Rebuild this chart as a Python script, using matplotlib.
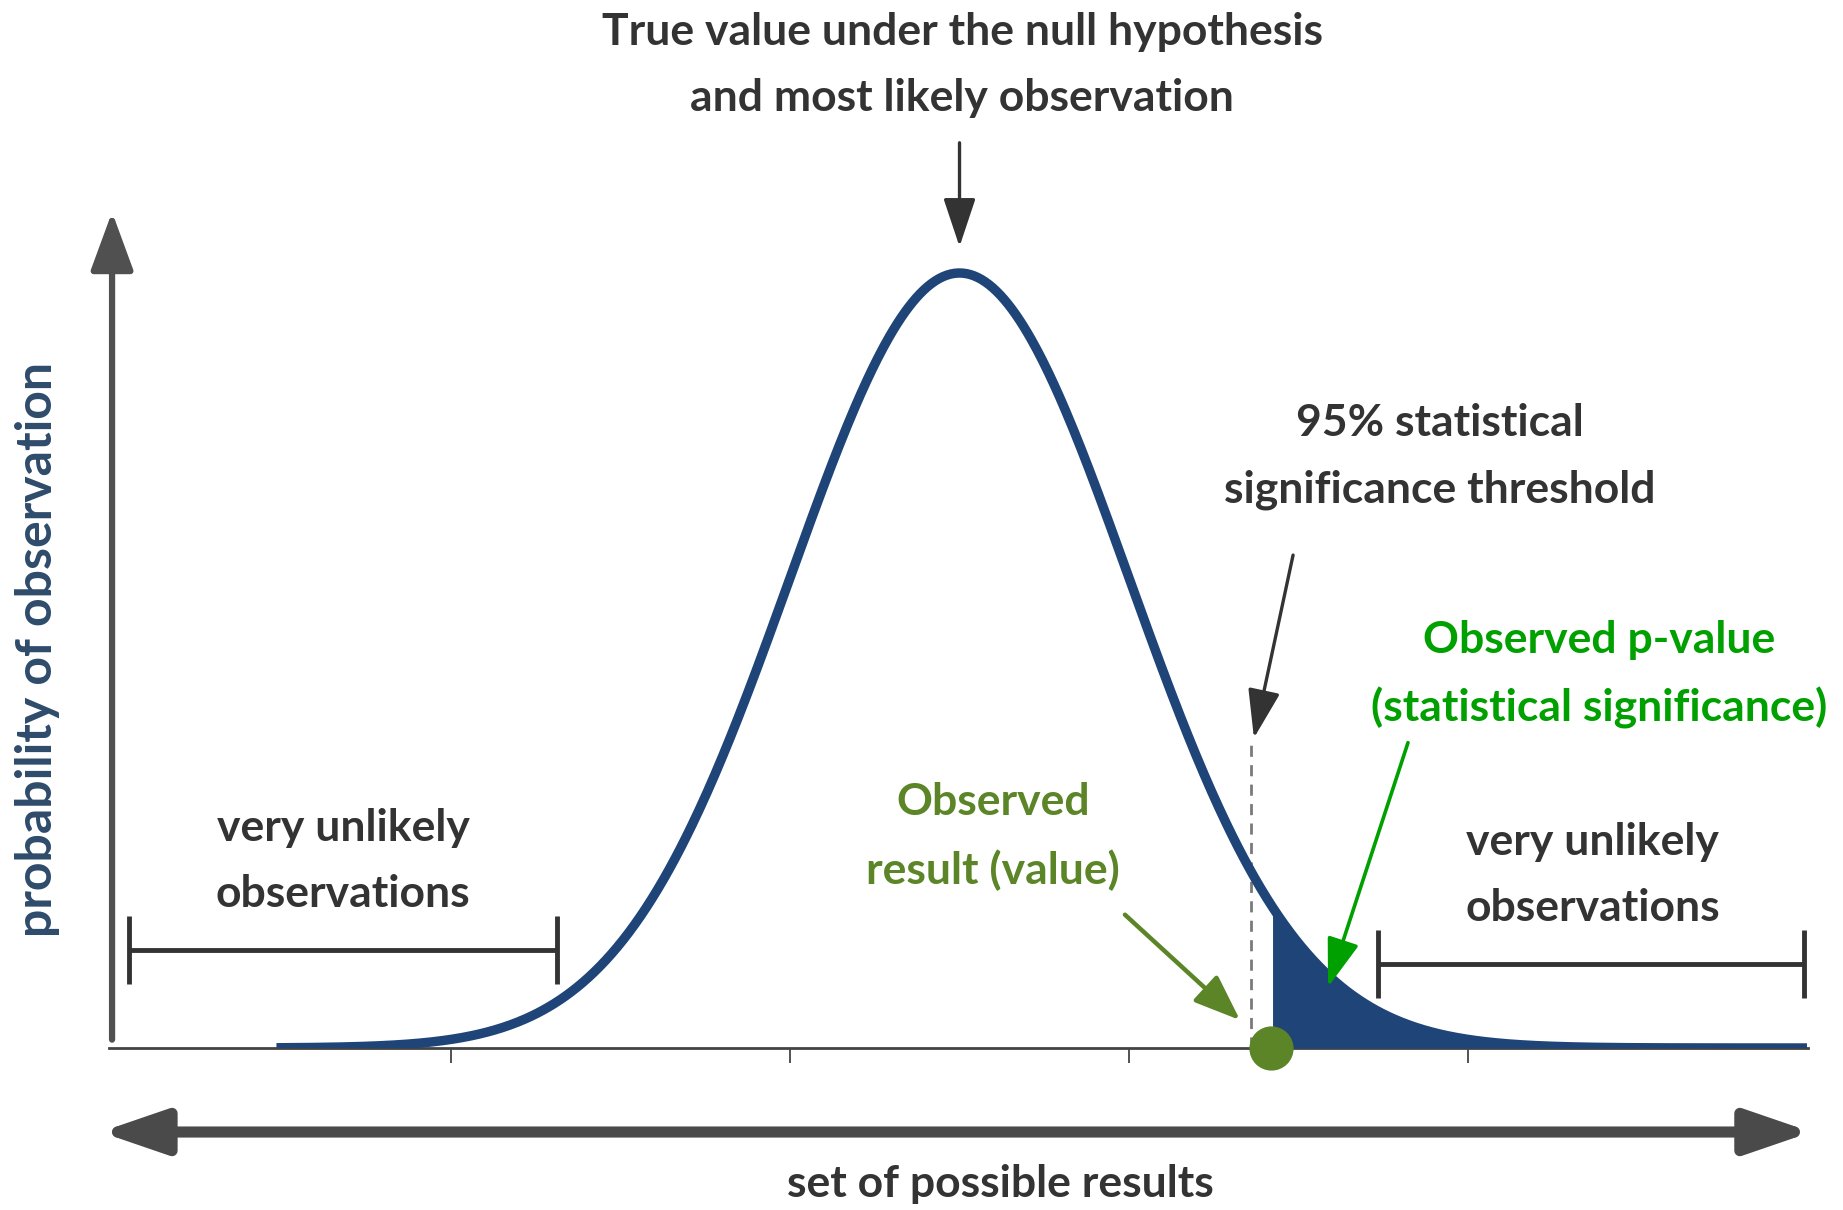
import numpy as np
import matplotlib.pyplot as plt

# curve parameters (in units of standard deviation)
mean = 0.0
sd = 1.0
x_start, x_end = -4.03, 5.0
threshold = 1.72        # 95% significance threshold
observed = 1.84         # observed result
tick_pos = [-3, -1, 1, 3]

# ranges of "very unlikely observations" brackets
left_range = [-4.90, -2.375]
left_range_y = 0.1265
right_range = [2.469, 4.98]
right_range_y = 0.108

navy = '#1f4478'
dark = '#333333'
green = '#00a000'
olive = '#5b8526'

plt.rcParams['font.family'] = ['Lato', 'DejaVu Sans']
plt.rcParams['font.weight'] = 'bold'

fig = plt.figure(figsize=(18.43, 12.10), dpi=100)
ax = fig.add_axes([109 / 1843, 1 - 1048 / 1210, 1699 / 1843, 836 / 1210])

x = np.linspace(x_start, x_end, 800)
y = np.exp(-0.5 * ((x - mean) / sd) ** 2)

ax.plot(x, y, color=navy, lw=6.8, solid_capstyle='butt', zorder=3)
xs = x[x >= observed]
ax.fill_between(xs, 0, np.exp(-0.5 * ((xs - mean) / sd) ** 2), color=navy, lw=0, zorder=3)

ax.set_xlim(-5.018, 5.006)
ax.set_ylim(0, 1.0787)
for s in ['top', 'right', 'left']:
    ax.spines[s].set_visible(False)
ax.spines['bottom'].set_color('#444444')
ax.spines['bottom'].set_linewidth(2)
ax.set_xticks(tick_pos)
ax.set_xticklabels([])
ax.set_yticks([])
ax.tick_params(axis='x', direction='out', length=11, width=1.3, color='#444444')

# threshold dashed line
ax.plot([threshold, threshold], [0, 0.40], color='#7a7a7a', lw=2, ls=(0, (4, 3)), zorder=2)

# observed point
ax.scatter([observed], [0], s=950, color=olive, zorder=5, clip_on=False)

# brackets
for rng, yy, cap in [(left_range, left_range_y, 0.044), (right_range, right_range_y, 0.044)]:
    ax.plot(rng, [yy, yy], color=dark, lw=3.5, solid_capstyle='butt')
    for xx in rng:
        ax.plot([xx, xx], [yy - cap, yy + cap], color=dark, lw=3.5, solid_capstyle='butt')

fs = 32
ls = 1.8
head = '-|>,head_length=1.5,head_width=0.5'
ax.text(-3.637, 0.241, 'very unlikely\nobservations', ha='center', va='center',
        fontsize=fs, color=dark, linespacing=ls)
ax.text(3.737, 0.223, 'very unlikely\nobservations', ha='center', va='center',
        fontsize=fs, color=dark, linespacing=ls)

# top annotation
ax.text(0.015, 1.268, 'True value under the null hypothesis\nand most likely observation',
        ha='center', va='center', fontsize=fs, color=dark, linespacing=ls)
ax.annotate('', xy=(0, 1.034), xytext=(0, 1.168), annotation_clip=False,
            arrowprops=dict(arrowstyle=head, mutation_scale=20,
                            color=dark, lw=2.4, shrinkA=0, shrinkB=0))

# threshold annotation
ax.text(2.835, 0.763, '95% statistical\nsignificance threshold', ha='center', va='center',
        fontsize=fs, color=dark, linespacing=ls)
ax.annotate('', xy=(1.737, 0.400), xytext=(1.968, 0.636),
            arrowprops=dict(arrowstyle=head, mutation_scale=20,
                            color=dark, lw=2.4, shrinkA=0, shrinkB=0))

# p-value annotation
ax.text(3.773, 0.482, 'Observed p-value\n(statistical significance)', ha='center', va='center',
        fontsize=fs, color=green, linespacing=ls)
ax.annotate('', xy=(2.174, 0.0787), xytext=(2.646, 0.394),
            arrowprops=dict(arrowstyle=head, mutation_scale=20,
                            color=green, lw=2.6, shrinkA=0, shrinkB=0), zorder=6)

# observed result annotation
ax.text(0.198, 0.273, 'Observed\nresult (value)', ha='center', va='center',
        fontsize=fs, color=olive, linespacing=ls)
ax.annotate('', xy=(1.655, 0.036), xytext=(0.976, 0.172),
            arrowprops=dict(arrowstyle='-|>,head_length=1.3,head_width=0.5', mutation_scale=22,
                            color=olive, lw=3.2, shrinkA=0, shrinkB=0))

# y axis arrow
ax.annotate('', xy=(0.0018, 1.0), xytext=(0.0018, 0.01), xycoords='axes fraction',
            annotation_clip=False,
            arrowprops=dict(arrowstyle='-|>,head_length=1.5,head_width=0.55', mutation_scale=24,
                            color='#505050', lw=4.5, shrinkA=0, shrinkB=0))
ax.text(-0.0418, 0.477, 'probability of observation', transform=ax.transAxes, rotation=90,
        ha='center', va='center', fontsize=36, color='#2e4b6b')

# x axis double arrow
ax.annotate('', xy=(-0.005, -0.1005), xytext=(1.002, -0.1005), xycoords='axes fraction',
            annotation_clip=False,
            arrowprops=dict(arrowstyle='<|-|>,head_length=1.4,head_width=0.48', mutation_scale=28,
                            color='#4a4a4a', lw=8, shrinkA=0, shrinkB=0))
ax.text(0.5244, -0.163, 'set of possible results', transform=ax.transAxes,
        ha='center', va='center', fontsize=fs, color=dark)

fig.savefig('out.png', dpi=100)
